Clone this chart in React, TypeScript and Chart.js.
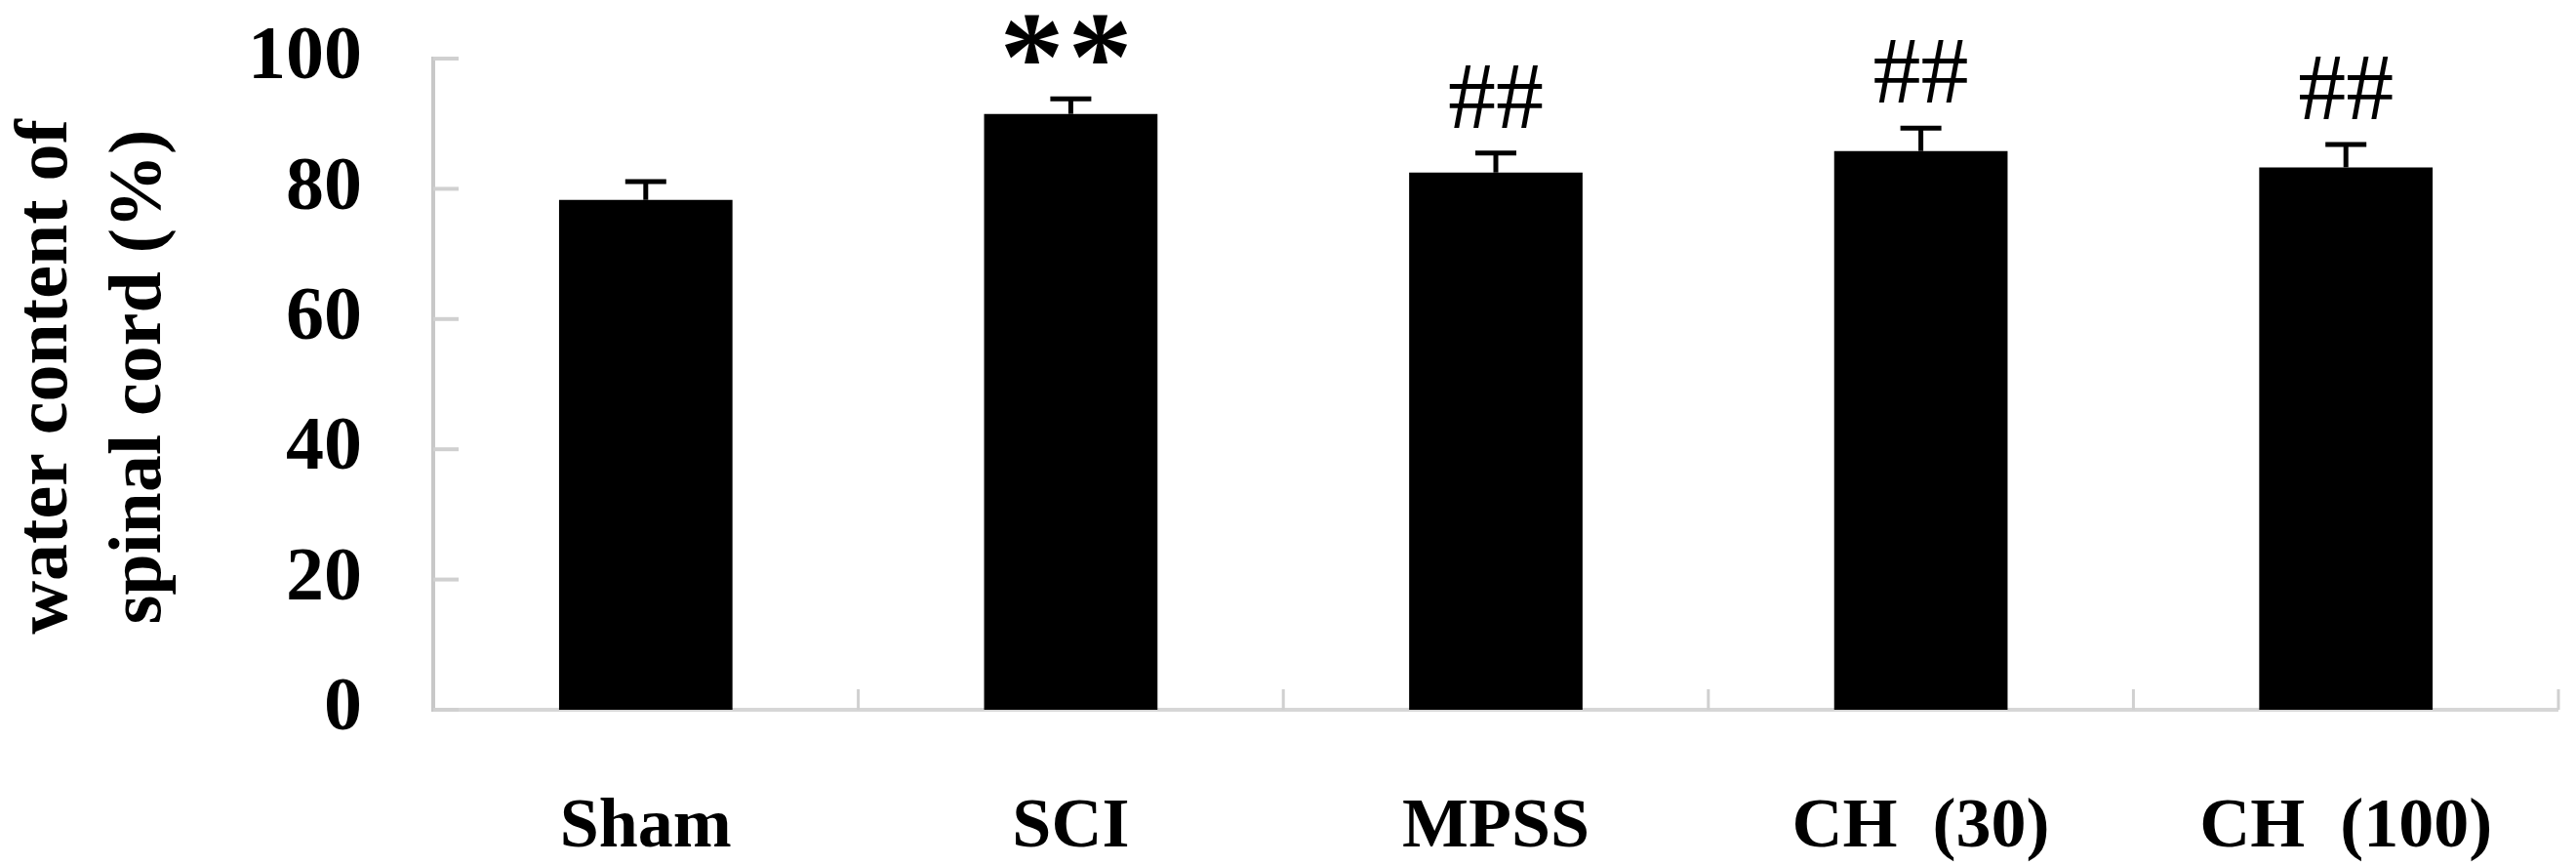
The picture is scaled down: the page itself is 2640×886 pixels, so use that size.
import React, { useEffect, useRef } from "react";
import { Chart, registerables } from "chart.js";

Chart.register(...registerables);

const categories = ["Sham", "SCI", "MPSS", "CH  (30)", "CH  (100)"];
const values = [78.3, 91.5, 82.5, 85.8, 83.3];
const errors = [2.8, 2.3, 3.0, 3.5, 3.5];
const marks = ["", "**", "##", "##", "##"];
const yTickValues = [0, 20, 40, 60, 80, 100];
const yTitleLines = ["water content of", "spinal cord (%)"];

const SERIF = '"Liberation Serif", "Times New Roman", serif';
const AXIS_COLOR = "#c8c8c8";

const customPlugin = {
  id: "custom",
  beforeDatasetsDraw(chart: any) {
    const ctx = chart.ctx;
    const { left, right, bottom } = chart.chartArea;
    const ys = chart.scales.y;
    const xs = chart.scales.x;
    ctx.save();
    ctx.strokeStyle = AXIS_COLOR;
    ctx.lineWidth = 4;
    ctx.lineCap = "butt";
    // y axis
    ctx.beginPath();
    ctx.moveTo(left, ys.getPixelForValue(100) - 2);
    ctx.lineTo(left, bottom + 2);
    ctx.stroke();
    // x axis
    ctx.strokeStyle = "#d6d6d6";
    ctx.beginPath();
    ctx.moveTo(left, bottom);
    ctx.lineTo(right, bottom);
    ctx.stroke();
    // y inner ticks
    ctx.strokeStyle = "#d0d0d0";
    yTickValues.forEach((v) => {
      const py = ys.getPixelForValue(v);
      ctx.beginPath();
      ctx.moveTo(left, py);
      ctx.lineTo(left + 26, py);
      ctx.stroke();
    });
    // x inner ticks at category boundaries
    ctx.lineWidth = 3;
    for (let i = 0; i < categories.length; i++) {
      const px =
        i < categories.length - 1
          ? (xs.getPixelForValue(i) + xs.getPixelForValue(i + 1)) / 2
          : right;
      ctx.beginPath();
      ctx.moveTo(px, bottom);
      ctx.lineTo(px, bottom - 21);
      ctx.stroke();
    }
    ctx.restore();

    // y title (two rotated lines)
    ctx.save();
    ctx.fillStyle = "#000";
    ctx.font = `bold 76px ${SERIF}`;
    ctx.textAlign = "center";
    ctx.textBaseline = "alphabetic";
    const cy = 386;
    const baseX = [68, 164];
    yTitleLines.forEach((line, i) => {
      ctx.save();
      ctx.translate(baseX[i], cy);
      ctx.rotate(-Math.PI / 2);
      ctx.fillText(line, 0, 0);
      ctx.restore();
    });
    ctx.restore();
  },
  afterDatasetsDraw(chart: any) {
    const ctx = chart.ctx;
    const ys = chart.scales.y;
    const meta = chart.getDatasetMeta(0);
    ctx.save();
    ctx.strokeStyle = "#000";
    ctx.fillStyle = "#000";
    values.forEach((v, i) => {
      const el = meta.data[i];
      const x = el.x;
      const yBar = ys.getPixelForValue(v);
      const yErr = ys.getPixelForValue(v + errors[i]);
      ctx.lineWidth = 5;
      ctx.beginPath();
      ctx.moveTo(x, yBar);
      ctx.lineTo(x, yErr);
      ctx.stroke();
      ctx.lineWidth = 5;
      ctx.beginPath();
      ctx.moveTo(x - 21, yErr);
      ctx.lineTo(x + 21, yErr);
      ctx.stroke();

      const m = marks[i];
      if (m === "##") {
        ctx.font = `98px ${SERIF}`;
        ctx.textAlign = "center";
        ctx.textBaseline = "alphabetic";
        ctx.fillText(m, x, yErr - 26);
      } else if (m === "**") {
        ctx.font = `bold 132px ${SERIF}`;
        ctx.textAlign = "center";
        ctx.textBaseline = "alphabetic";
        ctx.fillText("*", x - 40, yErr + 1);
        ctx.fillText("*", x + 30, yErr + 1);
      }
    });
    ctx.restore();
  },
};

export default function App() {
  const ref = useRef<HTMLCanvasElement | null>(null);
  useEffect(() => {
    const canvas = ref.current;
    if (!canvas) return;
    const chart = new Chart(canvas, {
      type: "bar",
      data: {
        labels: categories,
        datasets: [
          {
            data: values,
            backgroundColor: "#000",
            borderWidth: 0,
            barPercentage: 0.408,
            categoryPercentage: 1,
          },
        ],
      },
      options: {
        responsive: false,
        animation: false,
        devicePixelRatio: 1,
        layout: { padding: { top: 60, right: 18, left: 0, bottom: 0 } },
        plugins: { legend: { display: false }, tooltip: { enabled: false } },
        scales: {
          x: {
            offset: true,
            grid: { display: false },
            border: { display: false },
            ticks: {
              color: "#000",
              font: { family: SERIF, size: 72, weight: "bold" },
              padding: 70,
              maxRotation: 0,
              minRotation: 0,
              autoSkip: false,
            },
            afterFit: (s: any) => {
              s.height = 159;
              s.paddingLeft = 0;
              s.paddingRight = 0;
            },
          },
          y: {
            min: 0,
            max: 100,
            grid: { display: false },
            border: { display: false },
            ticks: {
              stepSize: 20,
              color: "#000",
              font: { family: SERIF, size: 78, weight: "bold" },
              padding: 65,
            },
            afterFit: (s: any) => {
              s.width = 444;
              s.paddingTop = 0;
              s.paddingBottom = 0;
            },
          },
        },
      },
      plugins: [customPlugin],
    });
    return () => chart.destroy();
  }, []);
  return (
    <div style={{ position: "fixed", left: 0, top: 0, width: 2640, height: 886, background: "#fff" }}>
      <canvas ref={ref} width={2640} height={886} style={{ width: 2640, height: 886, display: "block" }} />
    </div>
  );
}
